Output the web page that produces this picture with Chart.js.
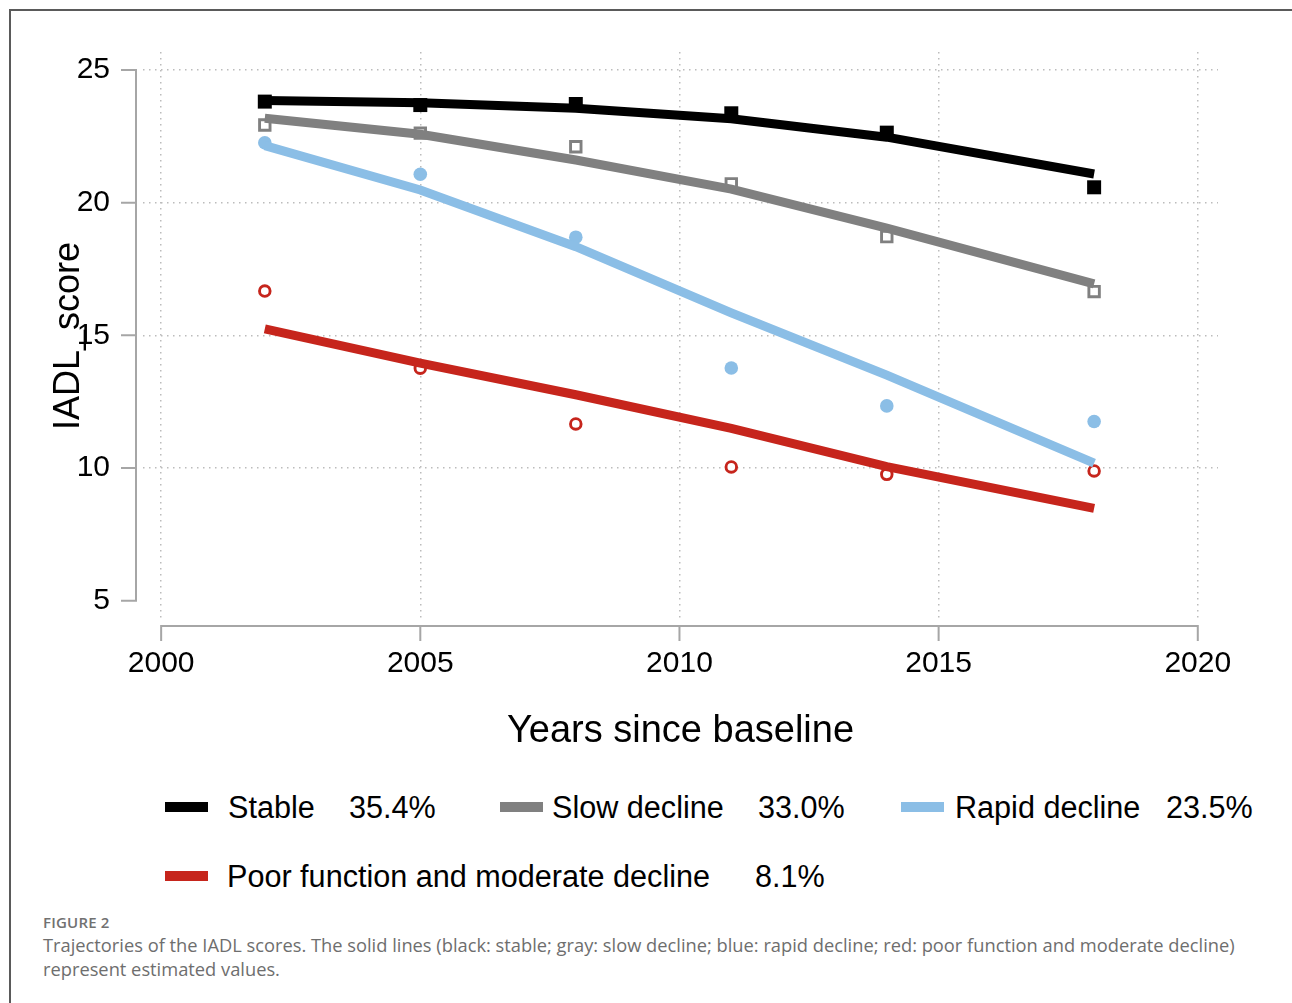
<!DOCTYPE html>
<html>
<head>
<meta charset="utf-8">
<title>Trajectories of the IADL scores</title>
<script src="https://cdn.jsdelivr.net/npm/chart.js@4.4.1/dist/chart.umd.min.js"></script>
<style>
  html, body { margin: 0; padding: 0; background: #fff; }
  body { width: 1292px; height: 1003px; position: relative; overflow: hidden; font-family: "Liberation Sans", Arial, sans-serif; }
  .frame { position: absolute; left: 9px; top: 9px; width: 1300px; height: 1000px; border-left: 2px solid #5a5a5a; border-top: 2px solid #5a5a5a; }
  #chart { position: absolute; left: 0; top: 0; }
  .swatch { position: absolute; width: 43px; height: 10px; }
  .legend-text { position: absolute; font-size: 30.6px; line-height: 30px; color: #000; white-space: pre; }
  .fig-label { position: absolute; left: 43px; top: 915px; font-family: "Open Sans", sans-serif; font-weight: 600; font-size: 15px; line-height: 15px; color: #717171; letter-spacing: 0.2px; }
  .caption { position: absolute; left: 43px; top: 933px; font-family: "Open Sans", sans-serif; font-size: 18.3px; line-height: 24px; color: #6e6e6e; white-space: nowrap; }
</style>
</head>
<body>
<div class="frame"></div>
<canvas id="chart" width="1292" height="760"></canvas>
<div id="legend"></div>
<div class="fig-label">FIGURE 2</div>
<div class="caption">Trajectories of the IADL scores. The solid lines (black: stable; gray: slow decline; blue: rapid decline; red: poor function and moderate decline)<br>represent estimated values.</div>
<script>
// survey waves
const years = [2002, 2005, 2008, 2011, 2014, 2018];

// trajectory groups and their share of the sample
const groupNames = ['Stable', 'Slow decline', 'Rapid decline', 'Poor function and moderate decline'];
const groupShares = ['35.4%', '33.0%', '23.5%', '8.1%'];

// observed mean IADL score per wave
const stableObserved = [23.81, 23.68, 23.72, 23.37, 22.64, 20.58];
const slowObserved   = [22.93, 22.62, 22.11, 20.71, 18.72, 16.65];
const rapidObserved  = [22.26, 21.07, 18.70, 13.77, 12.34, 11.75];
const poorObserved   = [16.67, 13.76, 11.66, 10.04, 9.76, 9.89];

// estimated trajectory per wave
const stableEstimated = [23.85, 23.77, 23.56, 23.16, 22.47, 21.08];
const slowEstimated   = [23.18, 22.58, 21.61, 20.51, 19.04, 16.94];
const rapidEstimated  = [22.15, 20.48, 18.34, 15.85, 13.50, 10.18];
const poorEstimated   = [15.24, 13.95, 12.76, 11.49, 10.05, 8.48];

// axis ticks
const xTicks = [2000, 2005, 2010, 2015, 2020];
const yTicks = [5, 10, 15, 20, 25];

const groups = [
    { observed: stableObserved, estimated: stableEstimated, color: '#000000', marker: 'rect',   radius: 9.9, hollow: false },
    { observed: slowObserved,   estimated: slowEstimated,   color: '#808080', marker: 'rect',   radius: 7.4, hollow: true },
    { observed: rapidObserved,  estimated: rapidEstimated,  color: '#8bbee6', marker: 'circle', radius: 6.8, hollow: false },
    { observed: poorObserved,   estimated: poorEstimated,   color: '#c6251c', marker: 'circle', radius: 5.3, hollow: true },
];

const toPoints = values => years.map((x, i) => ({ x: x, y: values[i] }));

const datasets = [];
groups.forEach((g, i) => {
    // estimated line goes on top of the markers
    datasets.push({
        label: groupNames[i],
        data: toPoints(g.estimated),
        borderColor: g.color,
        borderWidth: 9,
        pointRadius: 0,
        tension: 0,
        order: 0,
    });
    datasets.push({
        label: groupNames[i] + ' (observed)',
        data: toPoints(g.observed),
        showLine: false,
        pointStyle: g.marker,
        pointRadius: g.radius,
        pointBackgroundColor: g.hollow ? '#ffffff' : g.color,
        pointBorderColor: g.color,
        pointBorderWidth: g.hollow ? 2.9 : 0,
        order: 1,
    });
});

// Stata-style axis lines, set a little away from the plot region
const axisFrame = {
    id: 'axisFrame',
    afterDraw(chart) {
        const { ctx, chartArea, scales: { x, y } } = chart;
        const ax = chartArea.left - 7;
        const ay = chartArea.bottom + 6;
        ctx.save();
        ctx.strokeStyle = '#a6a6a6';
        ctx.lineWidth = 2;
        ctx.beginPath();
        ctx.moveTo(ax, y.getPixelForValue(yTicks[0]));
        ctx.lineTo(ax, y.getPixelForValue(yTicks[yTicks.length - 1]));
        yTicks.forEach(v => {
            const py = y.getPixelForValue(v);
            ctx.moveTo(ax - 15, py);
            ctx.lineTo(ax + 1, py);
        });
        ctx.moveTo(x.getPixelForValue(xTicks[0]), ay);
        ctx.lineTo(x.getPixelForValue(xTicks[xTicks.length - 1]), ay);
        xTicks.forEach(v => {
            const px = x.getPixelForValue(v);
            ctx.moveTo(px, ay - 1);
            ctx.lineTo(px, ay + 15);
        });
        ctx.stroke();
        ctx.restore();
    }
};

Chart.defaults.font.family = '"Liberation Sans", Arial, sans-serif';
Chart.defaults.color = '#000';

new Chart(document.getElementById('chart'), {
    type: 'line',
    data: { datasets: datasets },
    options: {
        responsive: false,
        animation: false,
        layout: { padding: { left: 0, top: 52, right: 74, bottom: 0 } },
        plugins: {
            legend: { display: false },
            tooltip: { enabled: false },
        },
        scales: {
            x: {
                type: 'linear',
                min: 1999.65,
                max: 2020.39,
                afterBuildTicks: s => { s.ticks = xTicks.map(value => ({ value })); },
                afterFit: s => { s.height = 140; },
                ticks: { callback: v => String(v), padding: 26, font: { size: 30 }, maxRotation: 0, autoSkip: false },
                grid: { drawTicks: false, color: '#bcbcbc', lineWidth: 1.5 },
                border: { display: false, dash: [1.5, 4.5] },
                title: { display: true, text: 'Years since baseline', font: { size: 38 }, padding: { top: 0, bottom: 6 } },
            },
            y: {
                type: 'linear',
                min: 4.27,
                max: 25.68,
                afterBuildTicks: s => { s.ticks = yTicks.map(value => ({ value })); },
                afterFit: s => { s.width = 143; },
                ticks: { callback: v => String(v), padding: 33, font: { size: 30 }, autoSkip: false },
                grid: {
                    drawTicks: false,
                    lineWidth: 1.5,
                    color: c => (c.tick && c.tick.value === yTicks[0]) ? 'rgba(0,0,0,0)' : '#bcbcbc',
                },
                border: { display: false, dash: [1.5, 4.5] },
                title: { display: true, text: 'IADL_score', font: { size: 36 }, padding: { top: 47, bottom: 0 } },
            },
        },
    },
    plugins: [axisFrame],
});

// legend laid out in two rows, Stata-style
const legendRows = [807, 876];
const legendSlots = [
    { row: 0, swatch: 165, label: 228, share: 349 },
    { row: 0, swatch: 500, label: 552, share: 758 },
    { row: 0, swatch: 901, label: 955, share: 1166 },
    { row: 1, swatch: 165, label: 227, share: 755 },
];
const legendBox = document.getElementById('legend');
legendSlots.forEach((slot, i) => {
    const cy = legendRows[slot.row];
    const sw = document.createElement('div');
    sw.className = 'swatch';
    sw.style.left = slot.swatch + 'px';
    sw.style.top = (cy - 5) + 'px';
    sw.style.background = groups[i].color;
    legendBox.appendChild(sw);
    [[groupNames[i], slot.label], [groupShares[i], slot.share]].forEach(([text, left]) => {
        const span = document.createElement('div');
        span.className = 'legend-text';
        span.textContent = text;
        span.style.left = left + 'px';
        span.style.top = (cy - 15) + 'px';
        legendBox.appendChild(span);
    });
});
</script>
</body>
</html>
